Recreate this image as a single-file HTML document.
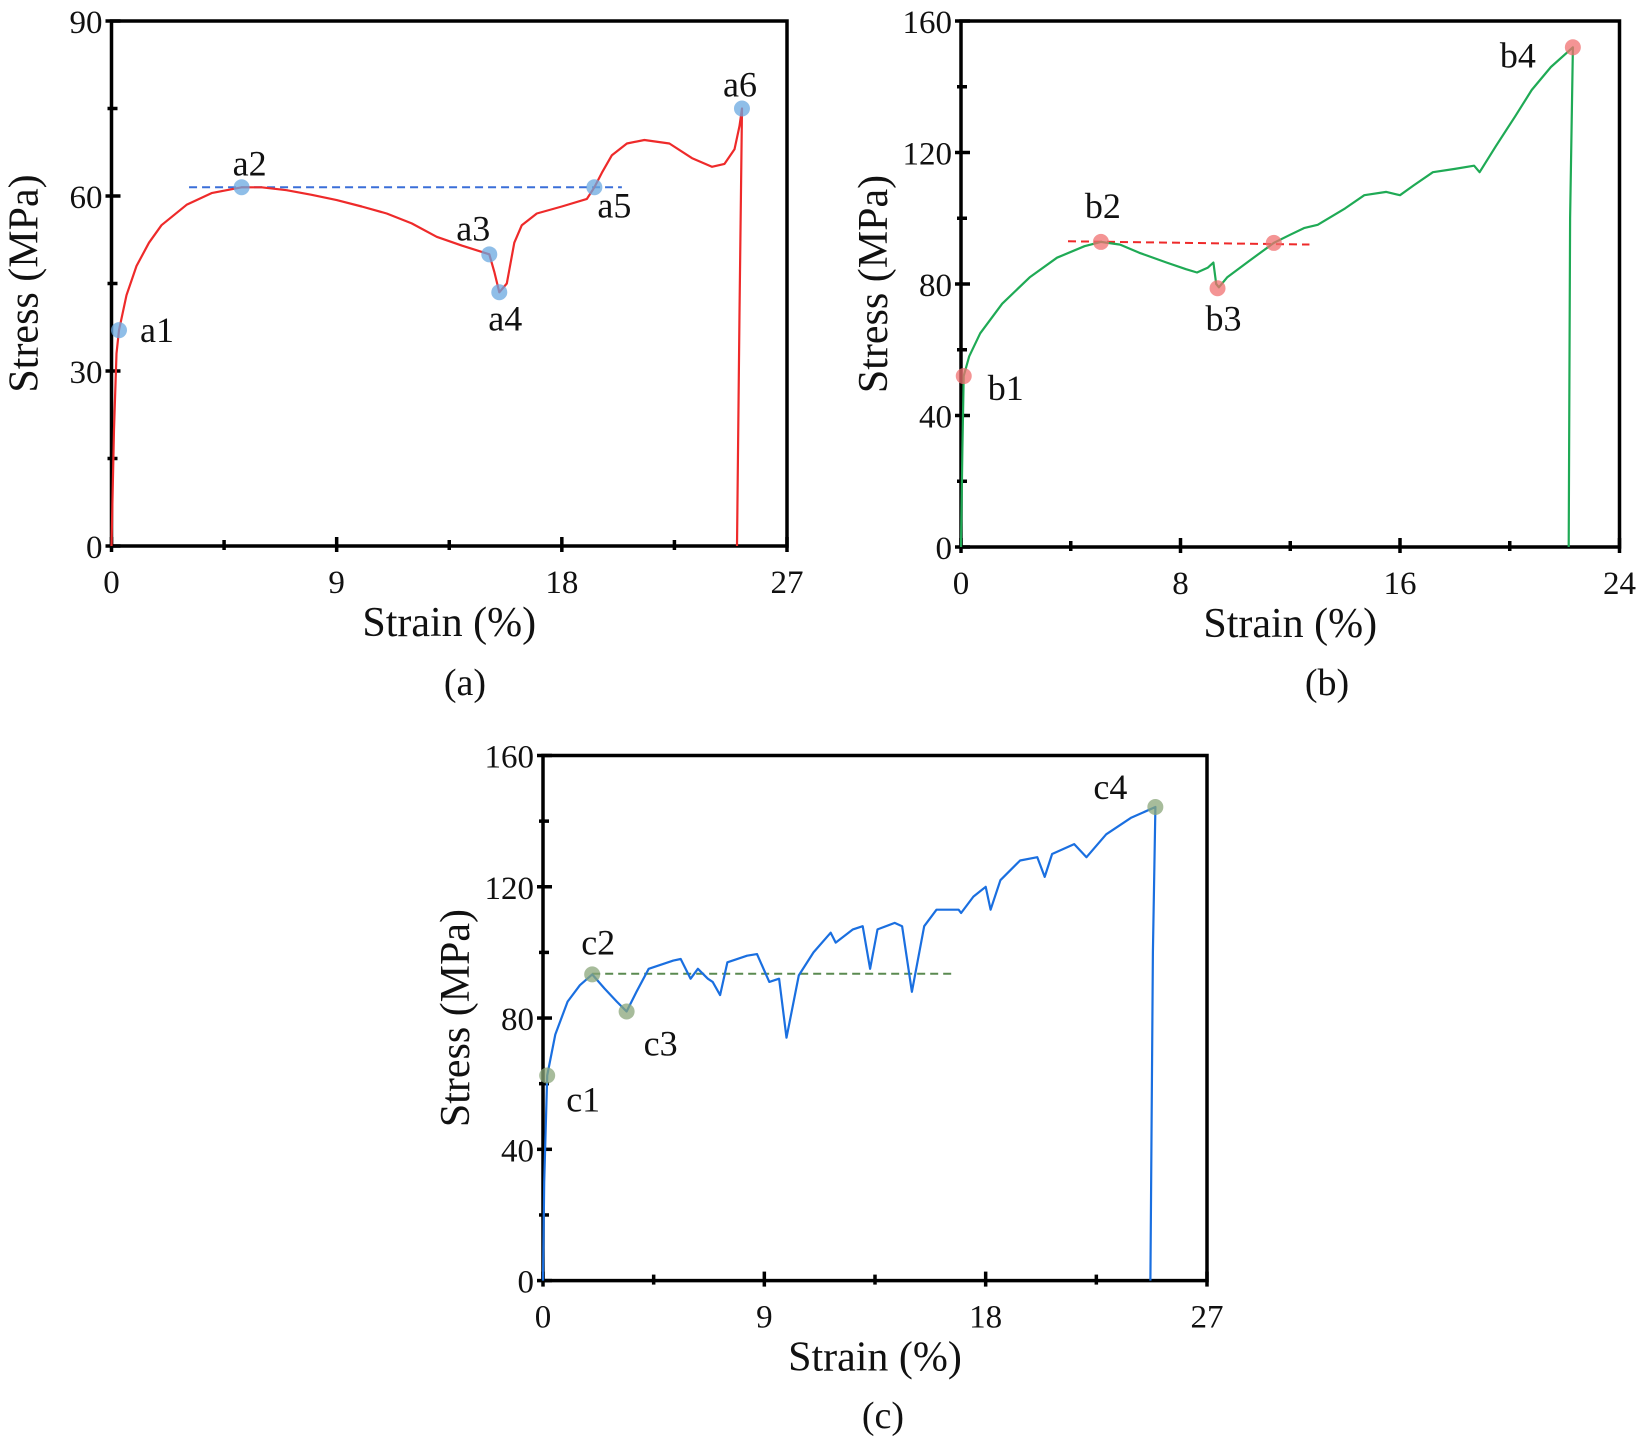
<!DOCTYPE html>
<html><head><meta charset="utf-8"><style>
html,body{margin:0;padding:0;background:#fff;}
svg text{font-family:"Liberation Serif",serif;fill:#111;}
</style></head><body>
<svg id="fig" width="1650" height="1437" viewBox="0 0 1650 1437" xmlns="http://www.w3.org/2000/svg"></svg>
<script>
// Panel (a) data
const aStrain=[0,0.1,0.2,0.3,0.6,1,1.5,2,3,4,5.2,6,7,8,9,10,11,12,13,14,15.1,15.3,15.5,15.8,16.1,16.4,17,18,19,19.3,19.6,20.0,20.6,21.3,22.3,23.2,24.0,24.5,24.9,25.1,25.2,25.1,25.0];
const aStress=[0,20,33,37,43,48,52,55,58.5,60.5,61.5,61.5,61,60.2,59.3,58.2,57,55.3,53,51.5,50,47,43.5,45,52,55,57,58.2,59.5,61.5,64,67,69,69.6,69,66.5,65,65.5,68,72,75,40,0];
const aMarkX=[0.3,5.2,15.1,15.5,19.3,25.2];
const aMarkY=[37,61.5,50,43.5,61.5,75];
const aMarkLbl=["a1","a2","a3","a4","a5","a6"];
const aDash=[3.1,20.4,61.5];
const aXTicks=[0,9,18,27], aYTicks=[0,30,60,90];
// Panel (b) data
const bStrain=[0,0.05,0.1,0.3,0.7,1.5,2.5,3.5,4.5,5.1,5.8,6.5,7.5,8.2,8.6,9.0,9.2,9.3,9.4,9.7,10.5,11.4,12,12.5,13,14,14.7,15.5,16,16.5,17.2,18,18.7,18.9,19.5,20.2,20.8,21.5,22.3,22.2,22.15];
const bStress=[0,30,52,58,65,74,82,88,91.5,92.8,92,89.5,86.5,84.5,83.5,85,86.5,80,79,82,87,92.5,95,97,98,103,107,108,107,110,114,115,116,114,122,131,139,146,152,100,0];
const bMarkX=[0.1,5.1,9.35,11.4,22.3];
const bMarkY=[52,92.8,78.7,92.5,152];
const bMarkLbl=["b1","b2","b3","","b4"];
const bDash=[3.9,12.7,93];
const bXTicks=[0,8,16,24], bYTicks=[0,40,80,120,160];
// Panel (c) data
const cStrain=[0,0.05,0.17,0.5,1,1.5,2.0,2.5,3.0,3.4,3.8,4.3,5.3,5.6,6.0,6.3,6.7,6.9,7.2,7.5,8.3,8.7,9.2,9.6,9.9,10.4,11.0,11.7,11.9,12.6,13.0,13.3,13.6,14.3,14.6,15.0,15.5,16.0,16.9,17.0,17.5,18.0,18.2,18.6,19.4,20.1,20.4,20.7,21.6,22.1,22.9,23.9,24.9,24.8,24.7];
const cStress=[0,30,62.5,75,85,90,93.3,89,85,82,88,95,97.5,98,92,95,92,91,87,97,99,99.5,91,92,74,93,100,106,103,107,108,95,107,109,108,88,108,113,113,112,117,120,113,122,128,129,123,130,133,129,136,141,144.3,100,0];
const cMarkX=[0.17,2.0,3.4,24.9];
const cMarkY=[62.5,93.3,82,144.3];
const cMarkLbl=["c1","c2","c3","c4"];
const cDash=[2.0,16.8,93.5];
const cXTicks=[0,9,18,27], cYTicks=[0,40,80,120,160];

const NS="http://www.w3.org/2000/svg";
const svg=document.getElementById('fig');
function mk(tag,attrs,parent){const e=document.createElementNS(NS,tag);for(const k in attrs)e.setAttribute(k,attrs[k]);(parent||svg).appendChild(e);return e;}

function panel(cfg){
  const g=mk('g',{});
  
  
  const X=v=>cfg.x0+(v-cfg.xmin)/(cfg.xmax-cfg.xmin)*(cfg.x1-cfg.x0);
  const Y=v=>cfg.y0-(v-cfg.ymin)/(cfg.ymax-cfg.ymin)*(cfg.y0-cfg.y1);
  const fr=mk('rect',{x:cfg.x0,y:cfg.y1,width:cfg.x1-cfg.x0,height:cfg.y0-cfg.y1,fill:'none',stroke:'#000','stroke-width':3.5},g);
  
  
  const xt=cfg.xt;
  for(let i=0;i<xt.length;i++){
    const px=X(xt[i]);
    const t=mk('line',{x1:px,x2:px,y1:cfg.y0-9,y2:cfg.y0+6,stroke:'#000','stroke-width':3.5},g);
    
    
    const l=mk('text',{x:px,y:cfg.y0+47,'text-anchor':'middle','font-size':33},g);
    l.textContent=xt[i];
    
    
    if(i<xt.length-1){
      const mx=X((xt[i]+xt[i+1])/2);
      const m=mk('line',{x1:mx,x2:mx,y1:cfg.y0-6,y2:cfg.y0+4,stroke:'#000','stroke-width':3.5},g);
      
      
    }
  }
  const yt=cfg.yt;
  for(let i=0;i<yt.length;i++){
    const py=Y(yt[i]);
    const t=mk('line',{x1:cfg.x0-6,x2:cfg.x0+9,y1:py,y2:py,stroke:'#000','stroke-width':3.5},g);
    
    
    const l=mk('text',{x:cfg.x0-9,y:py+12,'text-anchor':'end','font-size':33},g);
    l.textContent=yt[i];
    
    
    if(i<yt.length-1){
      const my=Y((yt[i]+yt[i+1])/2);
      const m=mk('line',{x1:cfg.x0-4,x2:cfg.x0+6,y1:my,y2:my,stroke:'#000','stroke-width':3.5},g);
      
      
    }
  }
  const xtit=mk('text',{x:(cfg.x0+cfg.x1)/2,y:cfg.y0+90,'text-anchor':'middle','font-size':42},g);
  xtit.textContent='Strain (%)';
  
  
  const yc=(cfg.y0+cfg.y1)/2, yx=cfg.x0-74;
  const ytit=mk('text',{x:yx,y:yc,'text-anchor':'middle','font-size':42,transform:`rotate(-90 ${yx} ${yc})`},g);
  ytit.textContent='Stress (MPa)';
  
  
  const d=cfg.dash;
  const dl=mk('line',{x1:X(d[0]),x2:X(d[1]),y1:Y(d[2]),y2:Y(cfg.dashEnd!==undefined?cfg.dashEnd:d[2]),stroke:cfg.dashColor,'stroke-width':2,'stroke-dasharray':'8,5'},g);
  
  
  let pts=cfg.sx.map((v,i)=>X(v).toFixed(1)+','+Y(cfg.sy[i]).toFixed(1)).join(' ');
  const pl=mk('polyline',{points:pts,fill:'none',stroke:cfg.color,'stroke-width':2.2,'stroke-linejoin':'round'},g);
  
  
  for(let i=0;i<cfg.mx.length;i++){
    const c=mk('circle',{cx:X(cfg.mx[i]),cy:Y(cfg.my[i]),r:8,fill:cfg.mcolor,'fill-opacity':0.75},g);
    
    
    if(cfg.ml[i]){
      const off=cfg.loff[i];
      const t=mk('text',{x:X(cfg.mx[i])+off[0],y:Y(cfg.my[i])+off[1],'text-anchor':'middle','font-size':36},g);
      t.textContent=cfg.ml[i];
      
      
    }
  }
  const pn=mk('text',{x:cfg.pl[0],y:cfg.pl[1],'text-anchor':'middle','font-size':38},g);
  pn.textContent=cfg.pn;
  
  
}
panel({id:'panel-a',x0:111.5,x1:787,y0:546,y1:21,xmin:0,xmax:27,ymin:0,ymax:90,xt:aXTicks,yt:aYTicks,
  sx:aStrain,sy:aStress,mx:aMarkX,my:aMarkY,ml:aMarkLbl,color:'#ee2a2a',mcolor:'#6aa8e0',dash:aDash,dashColor:'#3a6fd8',
  loff:[[38,12],[8,-12],[-16,-14],[6,38],[20,30],[-2,-12]],pl:[465,695],pn:'(a)'});
panel({id:'panel-b',x0:961,x1:1619.5,y0:547,y1:21,xmin:0,xmax:24,ymin:0,ymax:160,xt:bXTicks,yt:bYTicks,
  sx:bStrain,sy:bStress,mx:bMarkX,my:bMarkY,ml:bMarkLbl,color:'#1faa55',mcolor:'#f07070',dash:bDash,dashEnd:92,dashColor:'#ee2a2a',
  loff:[[42,24],[2,-24],[6,42],[0,0],[-55,20]],pl:[1327,695],pn:'(b)'});
panel({id:'panel-c',x0:543,x1:1207,y0:1280.6,y1:755.5,xmin:0,xmax:27,ymin:0,ymax:160,xt:cXTicks,yt:cYTicks,
  sx:cStrain,sy:cStress,mx:cMarkX,my:cMarkY,ml:cMarkLbl,color:'#1a6fe0',mcolor:'#8aa67a',dash:cDash,dashColor:'#5a8a50',
  loff:[[36,36],[6,-20],[34,44],[-45,-8]],pl:[883,1428],pn:'(c)'});
</script>
</body></html>
